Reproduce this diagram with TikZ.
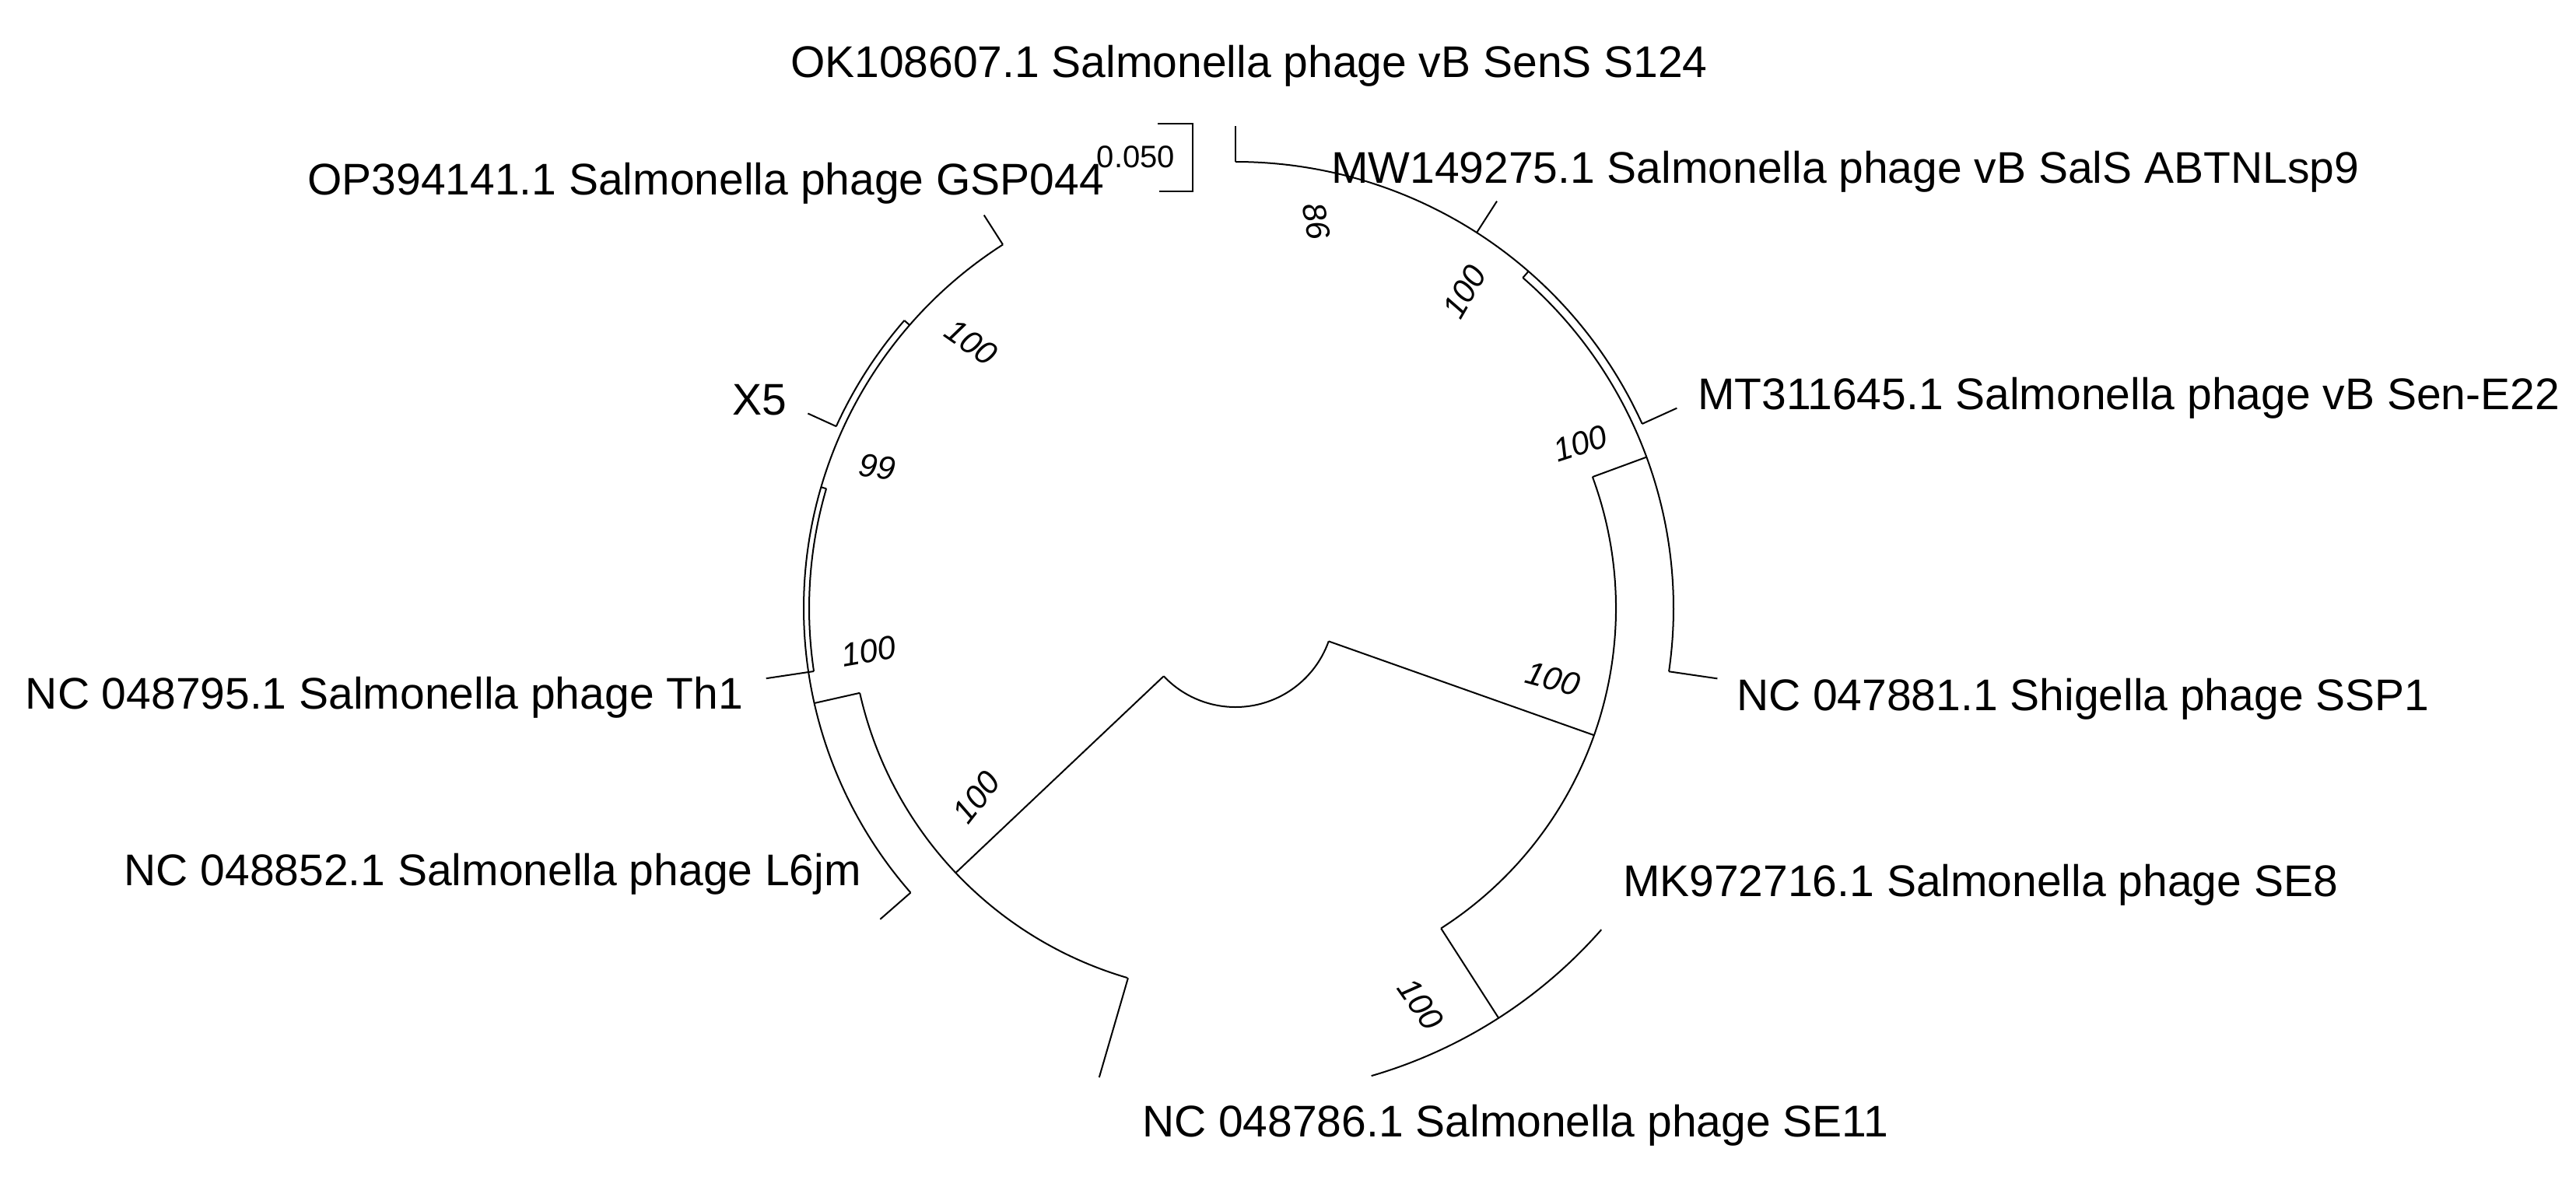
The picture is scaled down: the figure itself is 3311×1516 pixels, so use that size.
\documentclass[tikz,border=0pt]{standalone}
\usepackage{fontspec}
\setmainfont{Liberation Sans}
\usetikzlibrary{calc}
\newcommand\carc[3]{\draw ($(O)+(#1:#3pt)$) arc[start angle=#1,end angle=#2,radius=#3pt];}
\newcommand\crad[3]{\draw ($(O)+(#1:#2pt)$) -- ($(O)+(#1:#3pt)$);}
\begin{document}
\begin{tikzpicture}[x=1pt,y=1pt,line width=2pt,
  leaf/.style={inner sep=0pt,font=\fontsize{57}{60}\selectfont},
  boot/.style={inner sep=0pt,font=\fontsize{42}{44}\selectfont\itshape}]
\useasboundingbox (0,0) rectangle (3311,-1516);
\coordinate (O) at (1588,-782);
% root
\carc{223.4}{340.5}{127}
\crad{223.4}{127}{495}
\crad{340.5}{127}{489}
% left clade
\carc{192.7}{253.7}{495}
\crad{253.8}{495}{628}
\crad{192.7}{495}{555}
\carc{122.6}{221.2}{555}
\crad{221.2}{555}{607}
\crad{122.6}{555}{600}
\carc{139}{155.5}{564}
\crad{139}{555}{564}
\crad{155.5}{564}{604}
\carc{163.7}{188.5}{548}
\crad{163.7}{548}{555}
\crad{188.5}{548}{610}
% right clade
\carc{-57.3}{20.2}{489}
\crad{-57.3}{489}{626}
\carc{-73.8}{-41.3}{626}
\crad{20.2}{489}{563}
\carc{-8.3}{49}{563}
\crad{-8.3}{563}{626}
\carc{24.4}{90}{574}
\crad{49}{563}{574}
\crad{24.4}{574}{623}
\crad{57.3}{574}{622}
\crad{90}{574}{620}
% scale bar
\draw (1488,-159) -- (1533,-159) -- (1533,-246) -- (1490,-246);
\node[inner sep=0pt,font=\fontsize{40}{42}\selectfont] (sc) at (1460,-202) {0.050};
% labels
\node[leaf,anchor=base west] (l1) at (1015,-99) {OK108607.1 Salmonella phage vB SenS S124};
\node[leaf,anchor=base east] (l2) at (1420,-250) {OP394141.1 Salmonella phage GSP044};
\node[leaf,anchor=base west] (l3) at (1710,-235) {MW149275.1 Salmonella phage vB SalS ABTNLsp9};
\node[leaf,anchor=base west] (l4) at (2181,-526) {MT311645.1 Salmonella phage vB Sen-E22};
\node[leaf,anchor=base west] (l5) at (2231,-913) {NC 047881.1 Shigella phage SSP1};
\node[leaf,anchor=base west] (l6) at (2085,-1152) {MK972716.1 Salmonella phage SE8};
\node[leaf,anchor=base west] (l7) at (1467,-1461) {NC 048786.1 Salmonella phage SE11};
\node[leaf,anchor=base east] (l8) at (1108,-1138) {NC 048852.1 Salmonella phage L6jm};
\node[leaf,anchor=base east] (l9) at (956,-911) {NC 048795.1 Salmonella phage Th1};
\node[leaf,anchor=base east] (l10) at (1012,-533) {X5};
% bootstrap
\node[boot,rotate=-78] (b1) at (1692,-284) {86};
\node[boot,rotate=60] (b2) at (1882,-375) {100};
\node[boot,rotate=18] (b3) at (2031,-570) {100};
\node[boot,rotate=-15] (b4) at (1996,-873) {100};
\node[boot,rotate=-55] (b5) at (1826,-1291) {100};
\node[boot,rotate=52] (b6) at (1255,-1025) {100};
\node[boot,rotate=10] (b7) at (1116,-837) {100};
\node[boot,rotate=-8] (b8) at (1128,-600) {99};
\node[boot,rotate=-35] (b9) at (1248,-440) {100};
\end{tikzpicture}
\end{document}
